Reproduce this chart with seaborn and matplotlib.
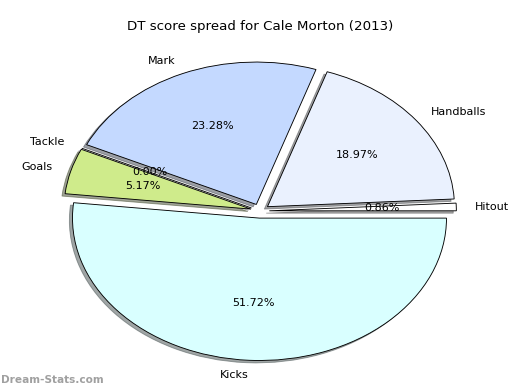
import matplotlib
matplotlib.use("Agg")
import matplotlib.pyplot as plt
import seaborn as sns

sns.set_style("white")
plt.rcParams['font.family'] = ['DejaVu Sans']
plt.rcParams['text.color'] = 'black'
plt.rcParams['axes.titlecolor'] = 'black'

labels = ["Hitout", "Handballs", "Mark", "Tackle", "Goals", "Kicks"]
values = [1, 22, 27, 0, 6, 60]
colors = ["#ffffff", "#eaf1fe", "#c4d9ff", "#e0e0ff", "#cfeb8b", "#d9ffff"]
explode = [0.05] * len(values)

fig = plt.figure(figsize=(6.5, 4.875), dpi=80)
ax = fig.add_axes([26.25 / 520, 1.0 / 390, 467.5 / 520, 356 / 390])
ax.pie(values, labels=labels, colors=colors, explode=explode,
       autopct="%1.2f%%", shadow={"ox": -0.015, "oy": -0.015}, startangle=0,
       wedgeprops={"edgecolor": "black", "linewidth": 0.8},
       textprops={"fontsize": 10, "color": "black"})
ax.set_aspect("auto")
ax.set_xlim(-1.25, 1.25)
ax.set_ylim(-1.25, 1.25)
ax.set_title("DT score spread for Cale Morton (2013)", fontsize=12, pad=2,
             color="black")
fig.text(1 / 520, 7 / 390, "Dream-Stats.com", color="#a0a0a0",
         fontsize=9.5, fontweight="bold", va="baseline", ha="left")
fig.savefig("out.png", dpi=80)
